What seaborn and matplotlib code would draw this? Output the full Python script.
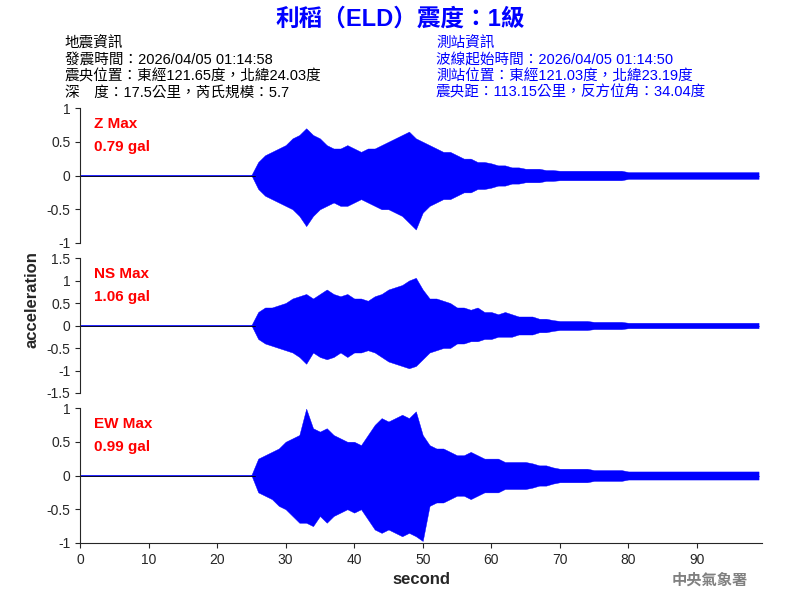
import numpy as np
import matplotlib
matplotlib.use("Agg")
import matplotlib.pyplot as plt
import seaborn as sns

sns.set_style("ticks")
plt.rcParams['font.family'] = ['Liberation Sans', 'Noto Sans CJK TC', 'DejaVu Sans']

seconds = list(range(100))
quiet = [0.005] * 26
# envelope amplitudes (upper / lower) per second
z_up = quiet + [0.2, 0.3, 0.35, 0.4, 0.45, 0.55, 0.6, 0.7, 0.6, 0.55, 0.45, 0.4, 0.4, 0.45, 0.4, 0.35, 0.4, 0.4, 0.45,
                0.5, 0.55, 0.6, 0.65, 0.55, 0.5, 0.45, 0.4, 0.35, 0.35, 0.3, 0.25, 0.25, 0.2, 0.2, 0.18, 0.15, 0.15, 0.12, 0.12,
                0.1, 0.1, 0.1, 0.08, 0.08, 0.07, 0.07, 0.07, 0.07, 0.07, 0.07, 0.07, 0.07, 0.07, 0.07,
                0.05, 0.05, 0.05, 0.05, 0.05, 0.05, 0.05, 0.05, 0.05, 0.05, 0.05, 0.05, 0.05, 0.05, 0.05, 0.05, 0.05, 0.05, 0.05, 0.05]
z_lo = quiet + [-0.2, -0.3, -0.35, -0.4, -0.45, -0.5, -0.6, -0.75, -0.6, -0.5, -0.45, -0.4, -0.45, -0.45, -0.4, -0.35, -0.4, -0.45, -0.5,
                -0.5, -0.55, -0.6, -0.7, -0.8, -0.55, -0.45, -0.4, -0.35, -0.35, -0.3, -0.25, -0.25, -0.2, -0.2, -0.18, -0.15, -0.15, -0.12, -0.12,
                -0.1, -0.1, -0.1, -0.08, -0.08, -0.07, -0.07, -0.07, -0.07, -0.07, -0.07, -0.07, -0.07, -0.07, -0.07,
                -0.05, -0.05, -0.05, -0.05, -0.05, -0.05, -0.05, -0.05, -0.05, -0.05, -0.05, -0.05, -0.05, -0.05, -0.05, -0.05, -0.05, -0.05, -0.05, -0.05]
ns_up = quiet + [0.3, 0.4, 0.4, 0.45, 0.5, 0.6, 0.65, 0.7, 0.6, 0.7, 0.8, 0.7, 0.65, 0.7, 0.6, 0.6, 0.55, 0.65, 0.7,
                 0.8, 0.85, 0.9, 1.0, 1.06, 0.8, 0.6, 0.6, 0.55, 0.5, 0.4, 0.4, 0.35, 0.4, 0.3, 0.3, 0.25, 0.3, 0.25, 0.2,
                 0.2, 0.2, 0.15, 0.15, 0.12, 0.1, 0.1, 0.1, 0.1, 0.1, 0.08, 0.08, 0.08, 0.08, 0.08,
                 0.06, 0.06, 0.06, 0.06, 0.06, 0.06, 0.06, 0.06, 0.06, 0.06, 0.06, 0.06, 0.06, 0.06, 0.06, 0.06, 0.06, 0.06, 0.06, 0.06]
ns_lo = quiet + [-0.3, -0.4, -0.45, -0.5, -0.55, -0.6, -0.7, -0.85, -0.6, -0.7, -0.75, -0.7, -0.6, -0.7, -0.6, -0.6, -0.55, -0.6, -0.7,
                 -0.8, -0.85, -0.9, -0.95, -0.9, -0.75, -0.6, -0.55, -0.5, -0.5, -0.4, -0.4, -0.35, -0.35, -0.3, -0.3, -0.25, -0.25, -0.25, -0.2,
                 -0.2, -0.2, -0.15, -0.15, -0.12, -0.1, -0.1, -0.1, -0.1, -0.1, -0.08, -0.08, -0.08, -0.08, -0.08,
                 -0.06, -0.06, -0.06, -0.06, -0.06, -0.06, -0.06, -0.06, -0.06, -0.06, -0.06, -0.06, -0.06, -0.06, -0.06, -0.06, -0.06, -0.06, -0.06, -0.06]
ew_up = quiet + [0.25, 0.3, 0.35, 0.4, 0.5, 0.55, 0.6, 0.99, 0.7, 0.65, 0.7, 0.6, 0.55, 0.5, 0.5, 0.45, 0.6, 0.75, 0.85,
                 0.8, 0.85, 0.9, 0.85, 0.95, 0.6, 0.45, 0.4, 0.4, 0.35, 0.3, 0.3, 0.35, 0.3, 0.25, 0.25, 0.25, 0.2, 0.2, 0.2,
                 0.2, 0.18, 0.15, 0.15, 0.12, 0.1, 0.1, 0.1, 0.1, 0.1, 0.08, 0.08, 0.08, 0.08, 0.08,
                 0.06, 0.06, 0.06, 0.06, 0.06, 0.06, 0.06, 0.06, 0.06, 0.06, 0.06, 0.06, 0.06, 0.06, 0.06, 0.06, 0.06, 0.06, 0.06, 0.06]
ew_lo = quiet + [-0.25, -0.3, -0.35, -0.45, -0.5, -0.6, -0.7, -0.7, -0.75, -0.6, -0.7, -0.6, -0.55, -0.5, -0.55, -0.5, -0.65, -0.8, -0.85,
                 -0.8, -0.85, -0.9, -0.85, -0.9, -0.97, -0.45, -0.4, -0.4, -0.35, -0.3, -0.3, -0.35, -0.3, -0.25, -0.25, -0.25, -0.2, -0.2, -0.2,
                 -0.2, -0.18, -0.15, -0.15, -0.12, -0.1, -0.1, -0.1, -0.1, -0.1, -0.08, -0.08, -0.08, -0.08, -0.08,
                 -0.06, -0.06, -0.06, -0.06, -0.06, -0.06, -0.06, -0.06, -0.06, -0.06, -0.06, -0.06, -0.06, -0.06, -0.06, -0.06, -0.06, -0.06, -0.06, -0.06]

channels = ["Z Max", "NS Max", "EW Max"]
peaks = ["0.79 gal", "1.06 gal", "0.99 gal"]
limits = [1, 1.5, 1]
yticks = [[-1, -0.5, 0, 0.5, 1], [-1.5, -1, -0.5, 0, 0.5, 1, 1.5], [-1, -0.5, 0, 0.5, 1]]
envs = [(z_up, z_lo), (ns_up, ns_lo), (ew_up, ew_lo)]

fig = plt.figure(figsize=(8, 6), dpi=100)
bottoms = [0.595, 0.345, 0.095]
for i in range(3):
    ax = fig.add_axes([0.1, bottoms[i], 0.8525, 0.225])
    up, lo = envs[i]
    ax.fill_between(seconds, lo, up, color="blue", lw=0.3, edgecolor="blue")
    sns.lineplot(x=seconds, y=[0] * 100, ax=ax, color="blue", lw=0.5)
    ax.axhline(0, xmax=25.5/99.5, color="black", lw=0.6)
    ax.set_xlim(0, 99.5)
    ax.set_ylim(-limits[i], limits[i])
    ax.set_yticks(yticks[i])
    ax.set_yticklabels([f"{t:g}" for t in yticks[i]], fontsize=10)
    sns.despine(ax=ax, right=True, top=True, bottom=(i < 2))
    if i < 2:
        ax.set_xticks([])
    else:
        ax.set_xticks(range(0, 100, 10))
        ax.tick_params(axis='x', labelsize=10)
        ax.set_xlabel("second", fontsize=12, fontweight="bold")
    ax.text(0.02, 0.93, channels[i], transform=ax.transAxes, color="red", fontsize=11, va="top", fontweight="bold")
    ax.text(0.02, 0.76, peaks[i], transform=ax.transAxes, color="red", fontsize=11, va="top", fontweight="bold")

fig.text(0.04, 0.5, "acceleration", rotation=90, va="center", ha="center", fontsize=12, fontweight="bold")
fig.text(0.5, 0.968, "利稻（ELD）震度：1級", color="blue", fontsize=17, fontweight="bold", ha="center", va="center")
left = ["地震資訊", "發震時間：2026/04/05 01:14:58", "震央位置：東經121.65度，北緯24.03度", "深　度：17.5公里，芮氏規模：5.7"]
right = ["測站資訊", "波線起始時間：2026/04/05 01:14:50", "測站位置：東經121.03度，北緯23.19度", "震央距：113.15公里，反方位角：34.04度"]
for k in range(4):
    fig.text(0.081, 0.927 - k * 0.027, left[k], fontsize=10.5, va="center", color="black", fontweight="medium")
    fig.text(0.545, 0.927 - k * 0.027, right[k], fontsize=10.5, va="center", color="blue", fontweight="medium")
fig.text(0.935, 0.032, "中央氣象署", color="gray", fontsize=11, ha="right", va="center", fontweight="bold")
fig.savefig("out.png", dpi=100)
